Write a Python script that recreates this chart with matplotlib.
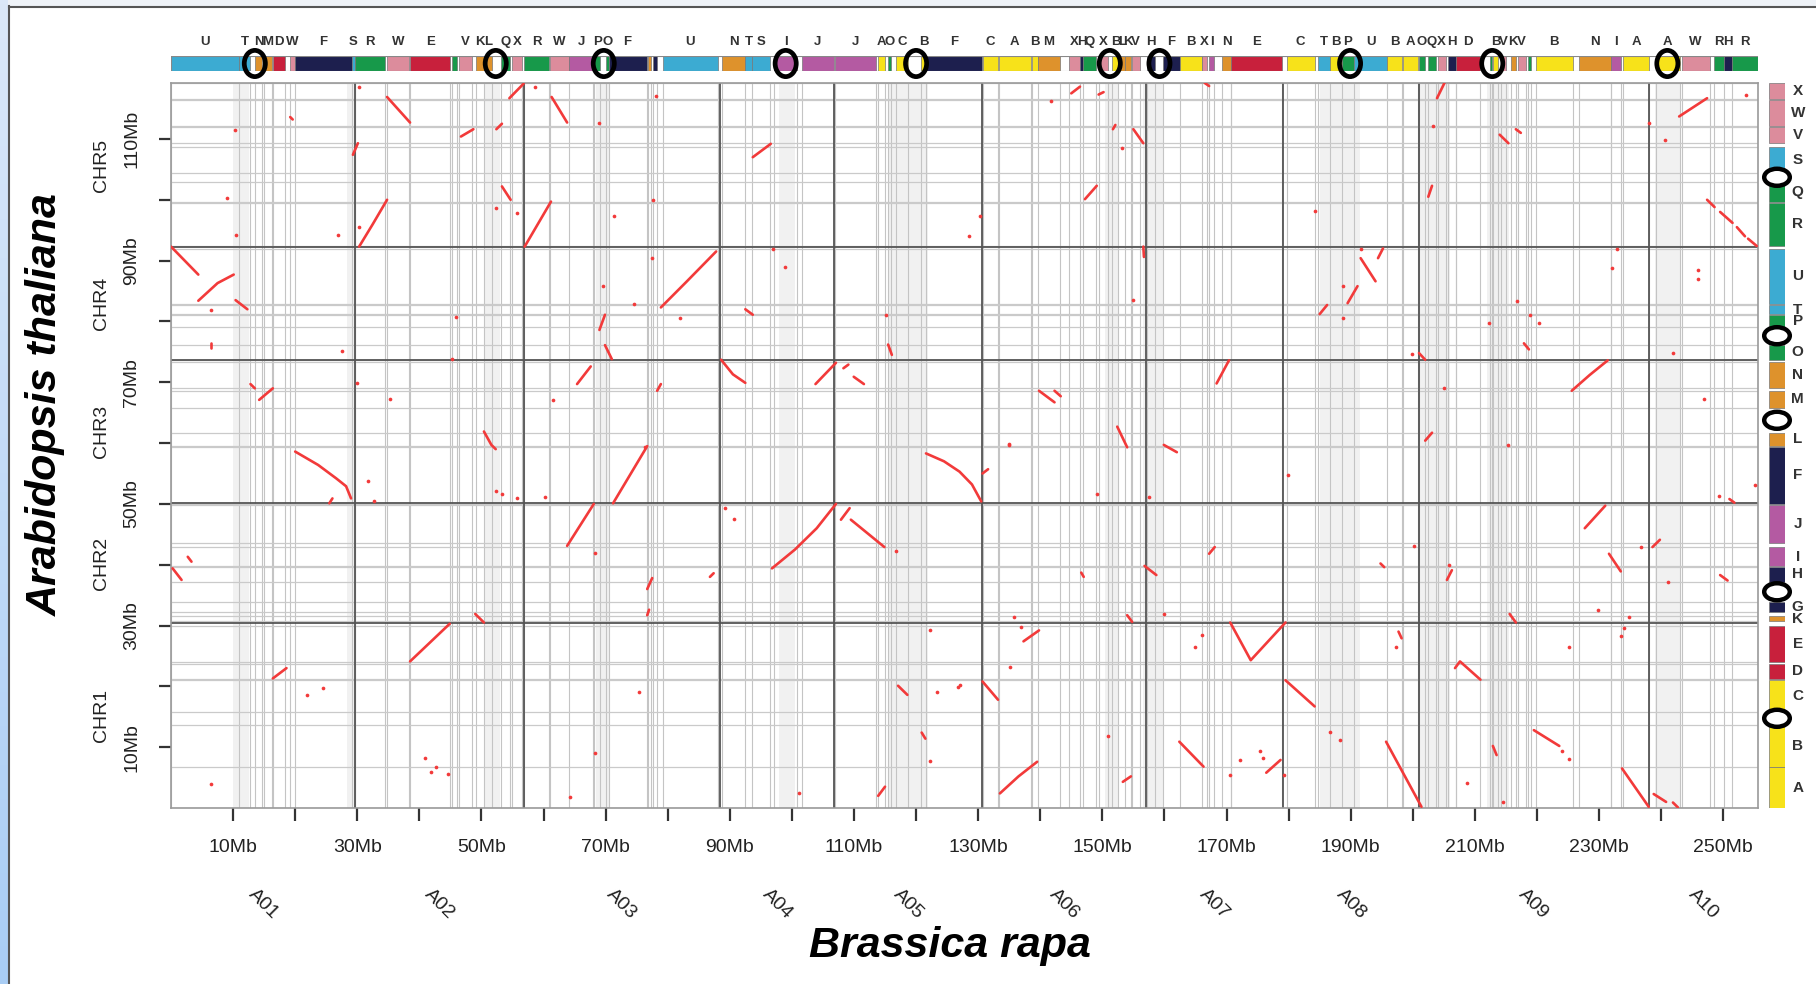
import numpy as np
import matplotlib
matplotlib.use("Agg")
import matplotlib.pyplot as plt
from matplotlib.patches import Rectangle, Ellipse
from matplotlib.lines import Line2D

# Brassica rapa chromosomes (Mb) along x, Arabidopsis chromosomes (Mb) along y
rapa_names = ["A01", "A02", "A03", "A04", "A05", "A06", "A07", "A08", "A09", "A10"]
rapa_sizes = [29.7, 27.1, 31.6, 18.4, 23.8, 26.5, 22.0, 21.9, 37.0, 17.6]
ath_names = ["CHR1", "CHR2", "CHR3", "CHR4", "CHR5"]
ath_sizes = [30.4, 19.7, 23.5, 18.6, 27.0]

# ancestral block colours
block_colors = {
    "A": "#f7e21a", "B": "#f7e21a", "C": "#f7e21a",
    "D": "#c8203c", "E": "#c8203c",
    "F": "#1d1f4e", "G": "#1d1f4e", "H": "#1d1f4e",
    "I": "#b45aa2", "J": "#b45aa2",
    "K": "#de922c", "L": "#de922c", "M": "#de922c", "N": "#de922c",
    "O": "#17994a", "P": "#17994a", "Q": "#17994a", "R": "#17994a",
    "S": "#3cabd2", "T": "#3cabd2", "U": "#3cabd2",
    "V": "#dc8c9c", "W": "#dc8c9c", "X": "#dc8c9c",
}

# blocks on the B. rapa genome: start, end, block, printed label
rapa_blocks = [
    (0.0, 11.0, "U", "U"), (11.0, 12.7, "T", "T"), (13.5, 14.7, "N", "N"),
    (14.9, 16.3, "M", "M"), (16.5, 18.4, "D", "D"), (19.2, 19.9, "W", "W"),
    (19.9, 29.1, "F", "F"), (29.1, 29.6, "S", "S"),
    (29.7, 34.5, "R", "R"), (34.8, 38.3, "W", "W"), (38.5, 45.0, "E", "E"),
    (45.3, 46.1, "O", ""), (46.4, 48.5, "V", "V"), (49.1, 50.4, "K", "K"),
    (50.4, 51.7, "L", "L"), (53.1, 54.6, "Q", "Q"), (54.9, 56.5, "X", "X"),
    (56.8, 60.9, "R", "R"), (61.0, 64.1, "W", "W"), (64.1, 68.0, "J", "J"),
    (68.2, 69.1, "P", "P"), (70.0, 70.5, "O", "O"), (70.5, 76.6, "F", "F"),
    (76.8, 77.3, "K", ""), (77.6, 78.2, "H", ""), (79.2, 88.1, "U", "U"),
    (88.8, 92.5, "N", "N"), (92.5, 93.6, "T", "T"), (93.6, 96.5, "S", "S"),
    (97.1, 100.9, "I", "I"), (101.6, 106.8, "J", "J"),
    (106.9, 113.6, "J", "J"), (113.8, 115.0, "A", "A"), (115.4, 116.0, "O", "O"),
    (116.8, 118.7, "C", "C"), (120.8, 121.6, "B", "B"), (121.6, 130.6, "F", "F"),
    (130.8, 133.2, "C", "C"), (133.3, 138.5, "A", "A"), (138.6, 139.6, "B", "B"),
    (139.6, 143.2, "M", "M"), (144.7, 146.4, "X", "X"), (146.4, 146.9, "H", "H"),
    (146.9, 149.0, "Q", "Q"), (149.5, 150.9, "X", "X"), (151.6, 152.6, "B", "B"),
    (152.6, 153.7, "L", "L"), (153.7, 154.6, "K", "K"), (154.7, 156.0, "V", "V"),
    (157.2, 158.5, "H", "H"), (159.7, 162.5, "F", "F"), (162.5, 166.0, "B", "B"),
    (166.0, 166.9, "X", "X"), (167.2, 168.0, "I", "I"), (169.3, 170.7, "N", "N"),
    (170.8, 179.0, "E", "E"),
    (179.7, 184.2, "C", "C"), (184.8, 186.6, "T", "T"), (186.6, 188.6, "B", "B"),
    (188.6, 190.5, "P", "P"), (190.5, 195.9, "U", "U"), (195.9, 198.2, "B", "B"),
    (198.5, 200.9, "A", "A"),
    (200.95, 201.9, "O", "O"), (202.4, 203.8, "Q", "Q"), (204.0, 205.3, "X", "X"),
    (205.6, 206.9, "H", "H"), (207.0, 210.9, "D", "D"), (212.4, 212.8, "R", ""),
    (213.0, 213.8, "B", "B"), (214.2, 215.0, "V", "V"), (215.8, 216.6, "K", "K"),
    (216.9, 218.2, "V", "V"), (218.5, 219.0, "O", ""), (219.8, 225.8, "B", "B"),
    (226.7, 231.9, "N", "N"), (232.0, 233.5, "I", "I"), (233.9, 238.0, "A", "A"),
    (239.2, 243.0, "A", "A"), (243.3, 247.8, "W", "W"), (248.5, 250.1, "R", "R"),
    (250.1, 251.4, "H", "H"), (251.4, 255.6, "R", "R"),
]

# blocks on the Arabidopsis genome: start, end, block
ath_blocks = [
    (0.0, 6.7, "A"), (6.7, 13.7, "B"), (15.8, 21.0, "C"), (21.2, 23.7, "D"),
    (24.0, 30.0, "E"), (30.8, 31.5, "K"), (32.2, 33.9, "G"), (37.2, 39.6, "H"),
    (39.8, 42.9, "I"), (43.6, 49.8, "J"), (50.0, 59.4, "F"), (59.6, 61.7, "L"),
    (65.8, 68.6, "M"), (69.1, 73.4, "N"), (73.7, 76.2, "O"), (79.1, 81.1, "P"),
    (81.2, 82.7, "T"), (82.9, 91.9, "U"), (92.4, 99.5, "R"), (99.7, 103.0, "Q"),
    (104.4, 108.7, "S"), (109.4, 112.0, "V"), (112.2, 116.4, "W"), (116.6, 119.2, "X"),
]

rapa_centromeres = [13.5, 52.3, 69.7, 99.0, 120.0, 151.2, 159.2, 189.9, 212.8, 241.0]
ath_centromeres = [14.75, 35.55, 63.75, 77.65, 103.7]

# shaded pericentromeric stretches on B. rapa
rapa_shaded = [(10.0, 12.5), (28.3, 29.7), (50.5, 53.0), (68.5, 70.5), (98.0, 100.5),
               (115.5, 122.0), (150.5, 152.5), (156.5, 160.0), (185.0, 191.5),
               (201.0, 206.0), (212.0, 215.5), (239.0, 243.0)]

# syntenic segments (x = B. rapa Mb, y = Arabidopsis Mb)
syn_lines = [
    [(34.8, 116.9), (38.5, 112.7)], [(54.5, 116.7), (56.8, 119.1)],
    [(61.3, 116.9), (63.8, 112.7)], [(19.2, 113.6), (19.6, 113.2)],
    [(46.7, 110.4), (48.7, 111.6)], [(52.4, 111.6), (53.3, 112.5)],
    [(93.7, 107.0), (96.6, 109.2)], [(29.3, 107.4), (30.1, 109.3)],
    [(30.3, 92.3), (32.5, 96.0), (34.8, 100.0)], [(53.3, 102.2), (54.7, 100.0)],
    [(56.96, 92.3), (61.2, 99.7)], [(0.0, 92.3), (4.4, 87.7)],
    [(4.4, 83.4), (7.5, 86.3), (10.1, 87.7)], [(10.4, 83.5), (12.3, 82.0)],
    [(78.9, 82.3), (83.0, 86.5), (87.8, 91.5)], [(69.0, 78.6), (69.9, 81.1)],
    [(69.9, 76.1), (71.0, 73.8)], [(92.5, 82.0), (93.7, 81.1)],
    [(115.5, 76.2), (116.1, 74.5)], [(88.6, 73.7), (90.5, 71.3), (92.5, 69.9)],
    [(103.8, 69.7), (107.1, 73.2)], [(108.3, 72.3), (109.1, 72.9)],
    [(109.96, 70.9), (111.6, 69.7)], [(65.4, 69.7), (67.6, 72.6)],
    [(78.3, 68.6), (78.9, 69.7)], [(12.8, 69.7), (13.5, 69.0)],
    [(14.2, 67.1), (16.4, 69.0)], [(50.4, 61.9), (51.6, 59.7), (52.3, 59.0)],
    [(6.4, 76.4), (6.4, 75.6)],
    [(20.0, 58.6), (23.7, 56.4), (26.6, 54.2), (28.2, 52.9), (29.0, 50.9)],
    [(25.5, 50.1), (26.0, 50.9)], [(71.2, 50.1), (76.7, 59.5)],
    [(63.8, 43.1), (68.1, 50.0)], [(2.7, 41.3), (3.3, 40.5)],
    [(0.26, 39.4), (1.7, 37.5)], [(76.7, 36.0), (77.5, 37.8)],
    [(76.7, 31.7), (77.0, 32.6)], [(38.5, 24.1), (44.9, 30.3)],
    [(49.0, 31.9), (50.4, 30.5)], [(16.4, 21.3), (18.6, 23.0)],
    [(86.8, 38.0), (87.4, 38.6)],
    [(96.8, 39.4), (100.5, 42.5), (104.0, 46.0), (107.1, 50.0)],
    [(107.9, 47.4), (109.3, 49.3)], [(109.5, 47.4), (114.9, 42.9)],
    [(121.6, 58.3), (124.5, 57.0), (127.0, 55.3), (129.0, 53.2), (130.5, 50.4)],
    [(117.1, 20.1), (118.6, 18.6)], [(120.9, 12.4), (121.5, 11.4)],
    [(113.9, 2.0), (115.0, 3.5)],
    [(130.7, 55.0), (131.6, 55.7)], [(251.0, 50.8), (251.8, 50.2)],
    [(227.7, 46.0), (231.0, 49.7)], [(167.2, 41.8), (168.1, 42.9)],
    [(146.6, 38.7), (147.0, 38.0)], [(156.8, 39.8), (158.7, 38.3)],
    [(154.0, 31.7), (154.8, 30.6)], [(137.3, 27.4), (139.8, 29.2)],
    [(130.7, 20.8), (133.2, 17.8)], [(133.5, 2.4), (136.5, 5.2), (139.5, 7.6)],
    [(153.3, 4.3), (154.6, 5.2)], [(162.4, 10.9), (166.3, 6.8)],
    [(170.6, 30.5), (173.9, 24.3), (179.5, 30.5)], [(176.4, 5.8), (178.7, 7.9)],
    [(179.5, 21.0), (184.2, 16.7)], [(195.7, 10.9), (201.4, 0.2)],
    [(197.7, 29.0), (198.2, 27.9)], [(194.8, 40.2), (195.4, 39.6)],
    [(205.5, 37.5), (206.3, 39.1)], [(206.8, 23.0), (207.6, 24.1), (210.9, 21.1)],
    [(212.9, 10.2), (213.5, 8.7)], [(215.6, 31.9), (216.6, 30.5)],
    [(219.5, 12.8), (223.6, 10.2)], [(231.6, 41.8), (233.5, 38.9)],
    [(238.6, 42.9), (239.8, 44.1)], [(249.5, 38.3), (250.7, 37.4)],
    [(233.7, 6.5), (238.0, 0.2)], [(238.8, 2.3), (240.8, 1.0)],
    [(241.9, 0.9), (242.7, 0.1)],
    [(145.0, 117.5), (146.4, 118.6)], [(149.4, 117.3), (150.2, 117.7)],
    [(166.5, 119.2), (167.2, 118.7)], [(151.7, 111.6), (152.1, 112.3)],
    [(155.0, 111.6), (156.6, 109.3)], [(147.2, 100.1), (149.1, 102.3)],
    [(156.6, 92.3), (156.7, 90.6)], [(203.9, 116.7), (205.1, 119.2)],
    [(202.5, 100.5), (203.1, 102.3)], [(214.0, 110.7), (215.4, 109.3)],
    [(216.6, 111.6), (217.4, 111.0)], [(242.9, 113.7), (247.4, 116.7)],
    [(247.4, 100.0), (248.6, 98.8)], [(249.5, 98.0), (251.5, 96.2)],
    [(252.2, 95.5), (253.5, 94.0)], [(254.0, 93.6), (255.4, 92.4)],
    [(191.6, 90.4), (194.0, 86.6)], [(194.4, 90.4), (195.2, 92.0)],
    [(189.5, 83.0), (191.1, 85.8)], [(185.0, 81.2), (186.2, 82.7)],
    [(217.9, 76.4), (218.7, 75.4)], [(201.0, 74.8), (202.0, 73.7)],
    [(168.4, 69.8), (170.4, 73.6)], [(139.8, 68.6), (142.3, 66.7)],
    [(142.3, 68.6), (143.3, 67.7)], [(152.4, 62.7), (154.0, 59.3)],
    [(159.9, 59.7), (162.0, 58.5)], [(225.6, 68.6), (228.5, 71.2), (231.4, 73.6)],
    [(202.0, 60.4), (203.1, 61.7)],
]
dots_x = [30.3, 58.6, 78.1, 10.3, 68.9, 9.05, 30.3, 26.97, 10.4, 52.3, 55.7, 77.7,
          71.3, 6.4, 77.5, 69.5, 74.5, 45.9, 82.0, 97.0, 98.9, 115.2, 27.5, 45.3,
          30.0, 35.2, 61.5, 76.3,
          31.7, 32.7, 52.3, 53.3, 55.7, 60.2, 68.3, 21.9, 24.5, 75.4, 68.3, 40.9,
          42.7, 41.8, 44.6, 6.4, 64.2, 89.2, 90.6, 116.7, 122.3, 123.3, 126.8,
          122.3, 101.2,
          149.1, 157.5, 134.9, 179.9, 215.4, 249.3, 255.1, 159.9, 135.7, 136.9,
          135.1, 127.05, 150.9, 166.0, 165.0, 170.6, 172.1, 175.4, 175.9, 179.2,
          186.6, 188.3, 197.3, 200.2, 205.9, 208.8, 214.6, 224.0, 225.2, 225.1,
          229.8, 236.7, 234.9, 234.0, 233.5, 241.1,
          141.8, 153.2, 130.3, 128.5, 155.0, 184.3, 203.3, 238.1, 240.6, 253.6,
          191.6, 188.7, 188.8, 232.9, 232.1, 246.0, 246.0, 216.8, 218.9, 220.3,
          212.3, 241.9, 199.8, 205.1, 246.9, 134.9]
dots_y = [118.5, 118.5, 117.0, 111.5, 112.6, 100.3, 95.6, 94.2, 94.2, 98.6, 97.9, 100.0,
          97.4, 81.9, 90.4, 85.9, 82.9, 80.7, 80.5, 91.9, 88.9, 81.1, 75.2, 73.9,
          69.8, 67.2, 67.0, 59.4,
          53.7, 50.4, 52.2, 51.7, 50.9, 51.2, 42.0, 18.6, 19.7, 19.1, 9.0, 8.3,
          6.8, 5.9, 5.6, 3.9, 1.8, 49.3, 47.5, 42.2, 29.3, 19.1, 19.9,
          7.8, 2.4,
          51.7, 51.1, 59.9, 54.8, 59.7, 51.3, 53.1, 31.9, 31.4, 29.7,
          23.2, 20.2, 11.9, 28.5, 26.5, 5.4, 7.9, 9.3, 8.2, 5.4,
          12.5, 11.1, 26.5, 43.0, 40.0, 4.1, 1.0, 9.3, 8.0, 26.5,
          32.5, 42.9, 31.4, 29.6, 28.2, 37.2,
          116.3, 108.5, 97.3, 94.1, 83.6, 98.1, 112.1, 112.7, 109.9, 117.3,
          91.9, 85.8, 80.5, 91.9, 88.8, 88.5, 87.0, 83.4, 81.1, 79.8,
          79.8, 74.8, 74.7, 69.0, 67.2, 59.7]

W, H = 1816, 984
narrow = ["Liberation Sans Narrow", "Liberation Sans", "DejaVu Sans"]
red = "#f23a3a"

rapa_ends = np.cumsum(rapa_sizes)
rapa_starts = rapa_ends - np.array(rapa_sizes)
ath_ends = np.cumsum(ath_sizes)
ath_starts = ath_ends - np.array(ath_sizes)
xmax, ymax = rapa_ends[-1], ath_ends[-1]

fig = plt.figure(figsize=(W / 100, H / 100), dpi=100)
fig.patch.set_facecolor("white")

def fig_rect(x0, y0, x1, y1):
    # pixel box (top-left origin) -> figure fraction
    return [x0 / W, 1 - y1 / H, (x1 - x0) / W, (y1 - y0) / H]

# window frame: blue strip on the left, pale strip on top
strip = fig.add_axes(fig_rect(0, 0, 8, H))
grad = np.linspace(0, 1, 256)[:, None]
strip.imshow(grad, aspect="auto", cmap=matplotlib.colors.LinearSegmentedColormap.from_list(
    "frame", ["#dbe8f8", "#a9cdf4"]), extent=[0, 1, 0, 1], origin="upper")
strip.axis("off")
top_strip = fig.add_axes(fig_rect(8, 0, W, 6))
top_strip.set_facecolor("#eef2f7")
top_strip.set_xticks([]); top_strip.set_yticks([])
for s in top_strip.spines.values():
    s.set_visible(False)
fig.add_artist(Line2D([8.5 / W, 8.5 / W], [0, 1 - 6 / H], color="#555555", lw=1.5))
fig.add_artist(Line2D([8.5 / W, 1], [1 - 6.5 / H, 1 - 6.5 / H], color="#555555", lw=1.5))

# main dot plot
ax = fig.add_axes(fig_rect(171, 83, 1758, 808))
ax.set_xlim(0, xmax)
ax.set_ylim(0, ymax)

for a, b in rapa_shaded:
    ax.axvspan(a, b, color="#9a9a9a", alpha=0.13, lw=0, zorder=0)
vlines = sorted(set([b[0] for b in rapa_blocks] + [b[1] for b in rapa_blocks]))
for v in vlines:
    ax.axvline(v, color="#c4c4c4", lw=0.8, zorder=1)
hlines = sorted(set([b[0] for b in ath_blocks] + [b[1] for b in ath_blocks]))
for h in hlines:
    ax.axhline(h, color="#cacaca", lw=0.9, zorder=1)
for e in rapa_ends[:-1]:
    ax.axvline(e, color="#555555", lw=1.3, zorder=2)
for e in ath_ends[:-1]:
    ax.axhline(e, color="#555555", lw=1.3, zorder=2)

for pts in syn_lines:
    xs, ys = zip(*pts)
    ax.plot(xs, ys, color=red, lw=1.9, solid_capstyle="round", zorder=3)
ax.scatter(dots_x, dots_y, s=7, color=red, lw=0, zorder=3)

for s in ax.spines.values():
    s.set_color("#9a9a9a")
    s.set_linewidth(1.2)

xt = np.arange(10, 256, 10)
ax.set_xticks(xt)
ax.set_xticklabels([f"{int(t)}Mb" if t % 20 == 10 else "" for t in xt],
                   fontsize=14, family=narrow, color="#222222")
yt = np.arange(10, 120, 10)
ax.set_yticks(yt)
ax.set_yticklabels([f"{int(t)}Mb" if t % 20 == 10 else "" for t in yt],
                   fontsize=14, family=narrow, color="#222222", rotation=90, va="center")
ax.tick_params(axis="x", length=9, width=1.6, pad=13, color="#333333")
ax.tick_params(axis="y", length=9, width=1.6, pad=13, color="#333333")

# chromosome names
for name, a, b in zip(rapa_names, rapa_starts, rapa_ends):
    ax.text((a + b) / 2, -15.8, name, rotation=-45, ha="center", va="center",
            fontsize=14, family=narrow, color="#222222", clip_on=False)
for name, a, b in zip(ath_names, ath_starts, ath_ends):
    ax.text(-11.2, (a + b) / 2, name, rotation=90, ha="center", va="center",
            fontsize=14, family=narrow, color="#222222", clip_on=False)

fig.text(950 / W, 1 - 946 / H, "Brassica rapa", ha="center", va="center",
         fontsize=31, fontweight="bold", style="italic", family="Liberation Sans")
fig.text(46 / W, 1 - 405 / H, "Arabidopsis thaliana", ha="center", va="center",
         rotation=90, fontsize=31, fontweight="bold", style="italic",
         family="Liberation Sans")

# ancestral blocks along B. rapa
tb = fig.add_axes(fig_rect(171, 56, 1758, 71))
tb.set_xlim(0, xmax)
tb.set_ylim(0, 1)
tb.axis("off")
for a, b, blk, lab in rapa_blocks:
    tb.add_patch(Rectangle((a, 0), b - a, 1, facecolor=block_colors[blk],
                           edgecolor="#777777", lw=0.5))
    if lab:
        tb.text((a + b) / 2, 1.93, lab, ha="center", va="center", fontsize=9.5,
                fontweight="bold", family=narrow, color="#333333", clip_on=False)
tb.add_patch(Rectangle((0, 0), xmax, 1, facecolor="none", edgecolor="#888888", lw=0.8))
for c in rapa_centromeres:
    tb.add_patch(Ellipse((c, 0.5), 3.4, 1.75, facecolor="none", edgecolor="black",
                         lw=3.4, clip_on=False))

# ancestral blocks along Arabidopsis
rb = fig.add_axes(fig_rect(1769, 83, 1785, 808))
rb.set_xlim(0, 1)
rb.set_ylim(0, ymax)
rb.axis("off")
for a, b, blk in ath_blocks:
    rb.add_patch(Rectangle((0, a), 1, b - a, facecolor=block_colors[blk],
                           edgecolor="#777777", lw=0.5))
    rb.text(1.8, (a + b) / 2, blk, ha="center", va="center", fontsize=11,
            fontweight="bold", family="Liberation Sans", color="#333333", clip_on=False)
for c in ath_centromeres:
    rb.add_patch(Ellipse((0.5, c), 1.6, 2.8, facecolor="white", edgecolor="black",
                         lw=3.2, clip_on=False))

fig.savefig("out.png", dpi=100)
